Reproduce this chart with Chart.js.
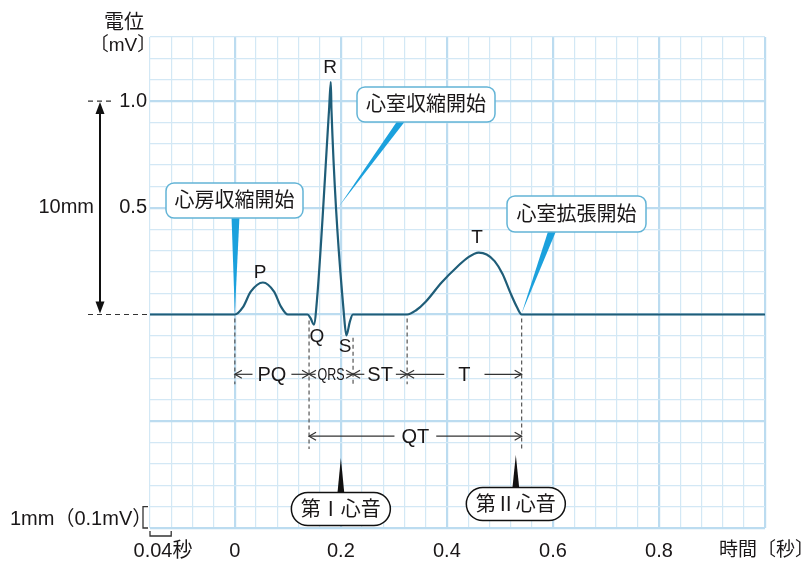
<!DOCTYPE html>
<html lang="ja">
<head>
<meta charset="utf-8">
<script src="https://cdn.jsdelivr.net/npm/chart.js@4.4.1/dist/chart.umd.min.js"></script>
<style>
  html, body { margin: 0; padding: 0; background: #fff; }
</style>
</head>
<body>
<canvas id="ecg" width="805" height="562"></canvas>
<script>
// 心電図の波形 (時間[秒], 電位[mV])
const ecgTime = [-0.16, 0, 0.015, 0.03, 0.053, 0.074, 0.087, 0.1,
  0.137, 0.143, 0.149, 0.155, 0.1777, 0.181, 0.1823, 0.2066, 0.2104, 0.217, 0.2226,
  0.325, 0.342, 0.36, 0.39, 0.42, 0.44, 0.46, 0.475, 0.49, 0.505, 0.52, 0.532, 0.541, 1.0];
const ecgVolt = [0, 0, 0.033, 0.107, 0.15, 0.107, 0.037, 0,
  0, -0.018, -0.047, 0.07, 0.958, 1.089, 0.958, -0.023, -0.098, -0.033, 0,
  0, 0.02, 0.06, 0.15, 0.225, 0.268, 0.29, 0.281, 0.25, 0.19, 0.10, 0.035, 0, 0];

const xTickVals = [0, 0.2, 0.4, 0.6, 0.8];
const xTickLabels = ['0', '0.2', '0.4', '0.6', '0.8'];
const yTickVals = [1.0, 0.5];
const yTickLabels = ['1.0', '0.5'];

const phaseEdges = [0, 0.14, 0.223, 0.325, 0.541];
const phaseNames = ['PQ', 'QRS', 'ST', 'T'];
const heartSoundTimes = [0.2, 0.53];
const heartSoundNames = ['第Ⅰ心音', '第Ⅱ心音'];
const calloutTexts = ['心房収縮開始', '心室収縮開始', '心室拡張開始'];

const FONT = "'Liberation Sans', 'Noto Sans CJK JP', sans-serif";
const INK = '#1a1718';

function isStep(v, s) { const r = v / s; return Math.abs(r - Math.round(r)) < 1e-6; }

function txt(c, s, x, y, size, align) {
  c.font = size + 'px ' + FONT;
  c.textAlign = align || 'center';
  c.textBaseline = 'middle';
  c.fillStyle = INK;
  c.fillText(s, x, y);
}

function line(c, x1, y1, x2, y2, dash, color, w) {
  c.save();
  c.strokeStyle = color || '#333';
  c.lineWidth = w || 1.2;
  c.setLineDash(dash || []);
  c.beginPath(); c.moveTo(x1, y1); c.lineTo(x2, y2); c.stroke();
  c.restore();
}

function chevron(c, x, y, dir) {
  c.save();
  c.strokeStyle = '#333'; c.lineWidth = 1.2;
  c.beginPath();
  c.moveTo(x - dir * 7, y - 4); c.lineTo(x, y); c.lineTo(x - dir * 7, y + 4);
  c.stroke();
  c.restore();
}

function rrect(c, x, y, w, h, r) {
  c.beginPath();
  c.moveTo(x + r, y);
  c.lineTo(x + w - r, y); c.arcTo(x + w, y, x + w, y + r, r);
  c.lineTo(x + w, y + h - r); c.arcTo(x + w, y + h, x + w - r, y + h, r);
  c.lineTo(x + r, y + h); c.arcTo(x, y + h, x, y + h - r, r);
  c.lineTo(x, y + r); c.arcTo(x, y, x + r, y, r);
  c.closePath();
}

function callout(c, s, cx, cy, w, h, wx, tx, ty) {
  const by = cy + h / 2;
  c.fillStyle = '#1ba1dd';
  c.beginPath(); c.moveTo(wx - 4, by - 2); c.lineTo(wx + 4, by - 2); c.lineTo(tx, ty); c.closePath(); c.fill();
  rrect(c, cx - w / 2, cy - h / 2, w, h, 8);
  c.fillStyle = '#fff'; c.fill();
  c.strokeStyle = '#63b4d6'; c.lineWidth = 1.5; c.stroke();
  txt(c, s, cx, cy + 1, 20);
}

function span(c, xa, xb, y, label, pad, size, squeeze) {
  c.font = size + 'px ' + FONT;
  const tw = c.measureText(label).width * (squeeze || 1);
  const mid = (xa + xb) / 2;
  const g1 = mid - tw / 2 - pad, g2 = mid + tw / 2 + pad;
  if (g1 > xa + 1) line(c, xa, y, g1, y);
  if (xb > g2 + 1) line(c, g2, y, xb, y);
  chevron(c, xa, y, -1);
  chevron(c, xb, y, 1);
  c.save();
  c.translate(mid, y + 1);
  c.scale(squeeze || 1, 1);
  txt(c, label, 0, 0, size);
  c.restore();
}

const annot = {
  id: 'annot',
  afterDatasetsDraw(chart) {
    const c = chart.ctx, xs = chart.scales.x, ys = chart.scales.y, a = chart.chartArea;
    const X = v => xs.getPixelForValue(v), Y = v => ys.getPixelForValue(v);
    c.save();

    // 縦軸まわり
    txt(c, '電位', 124, 23, 20);
    txt(c, '〔mV〕', 123, 46, 19);
    yTickVals.forEach((v, i) => txt(c, yTickLabels[i], 147, Y(v), 20, 'right'));
    line(c, 88, Y(1.0), 113, Y(1.0), [5, 4], '#333', 1.2);
    line(c, 88, Y(0), a.left, Y(0), [5, 4], '#333', 1.2);
    line(c, 100, Y(1.0) + 8, 100, Y(0) - 8, null, '#111', 2);
    c.fillStyle = '#111';
    c.beginPath(); c.moveTo(100, Y(1.0) + 1); c.lineTo(95.5, Y(1.0) + 13); c.lineTo(104.5, Y(1.0) + 13); c.closePath(); c.fill();
    c.beginPath(); c.moveTo(100, Y(0) - 1); c.lineTo(95.5, Y(0) - 13); c.lineTo(104.5, Y(0) - 13); c.closePath(); c.fill();
    txt(c, '10mm', 94, Y(0.5), 20, 'right');

    // 目盛りの大きさ
    txt(c, '1mm（0.1mV）', 10, 519, 20, 'left');
    c.strokeStyle = '#333'; c.lineWidth = 1.3; c.setLineDash([]);
    c.beginPath(); c.moveTo(148, Y(-0.9)); c.lineTo(143, Y(-0.9)); c.lineTo(143, Y(-1.0)); c.lineTo(148, Y(-1.0)); c.stroke();
    c.beginPath(); c.moveTo(X(-0.16), 531); c.lineTo(X(-0.16), 536); c.lineTo(X(-0.12), 536); c.lineTo(X(-0.12), 531); c.stroke();
    txt(c, '0.04秒', 163, 551, 20);

    // 横軸
    xTickVals.forEach((v, i) => txt(c, xTickLabels[i], X(v), 551, 20));
    txt(c, '時間〔秒〕', 719, 551, 19, 'left');

    // 波の名前
    txt(c, 'P', 260, 273, 19);
    txt(c, 'Q', 317, 337, 19);
    txt(c, 'R', 330, 68, 19);
    txt(c, 'S', 345, 347, 19);
    txt(c, 'T', 477, 238, 19);

    // 区間の補助線
    const yRow = Y(-0.28), yQT = Y(-0.57);
    const dashEnds = [yRow + 10, Y(-0.63), yRow + 10, yRow + 10, Y(-0.63)];
    const dashStarts = [Y(0) + 4, Y(0) + 6, Y(-0.1) + 2, Y(0) + 4, Y(0) + 4];
    phaseEdges.forEach((t, i) => line(c, X(t), dashStarts[i], X(t), dashEnds[i], [4, 3], '#555', 1.2));
    const pads = [5, 2, 3, 14];
    phaseNames.forEach((n, i) => {
      if (n === 'QRS') span(c, X(phaseEdges[i]), X(phaseEdges[i + 1]), yRow, n, pads[i], 16, 0.78);
      else span(c, X(phaseEdges[i]), X(phaseEdges[i + 1]), yRow, n, pads[i], 20);
    });
    span(c, X(phaseEdges[1]), X(phaseEdges[4]), yQT, 'QT', 7, 20);

    // 心音
    const pillY = [509, 504], spikeTop = [458, 455];
    heartSoundTimes.forEach((t, i) => {
      const x = X(t);
      c.fillStyle = '#111';
      c.beginPath(); c.moveTo(x - 3.5, pillY[i] - 15); c.lineTo(x + 3.5, pillY[i] - 15); c.lineTo(x, spikeTop[i]); c.closePath(); c.fill();
      rrect(c, x - 49.5, pillY[i] - 16.5, 99, 33, 16.5);
      c.fillStyle = '#fff'; c.fill();
      c.strokeStyle = '#111'; c.lineWidth = 1.5; c.stroke();
      txt(c, heartSoundNames[i], x, pillY[i] + 1, 20);
    });

    // 吹き出し
    callout(c, calloutTexts[0], 234.5, 200.5, 137, 35, 235.5, X(0), Y(0) - 1);
    callout(c, calloutTexts[1], 426, 104.5, 138, 35, 402, X(0.196), Y(0.505));
    callout(c, calloutTexts[2], 576.5, 214, 139, 36, 552.5, X(0.541), Y(0) - 1);

    c.restore();
  }
};

new Chart(document.getElementById('ecg'), {
  type: 'line',
  data: {
    datasets: [{
      data: ecgTime.map((t, i) => ({ x: t, y: ecgVolt[i] })),
      borderColor: '#1f5d78',
      borderWidth: 2.2,
      pointRadius: 0,
      cubicInterpolationMode: 'monotone',
      fill: false
    }]
  },
  options: {
    responsive: false,
    animation: false,
    layout: { padding: { left: 150, right: 40, top: 37, bottom: 34 } },
    plugins: { legend: { display: false }, tooltip: { enabled: false } },
    scales: {
      x: {
        type: 'linear', min: -0.16, max: 1.0,
        ticks: { stepSize: 0.04, display: false },
        border: { display: false },
        grid: {
          drawTicks: false,
          color: ctx => isStep(ctx.tick.value, 0.2) ? '#bcdcf0' : '#d3e8f5',
          lineWidth: ctx => isStep(ctx.tick.value, 0.2) ? 2.2 : 1.2
        }
      },
      y: {
        type: 'linear', min: -1.0, max: 1.3,
        ticks: { stepSize: 0.1, display: false },
        border: { display: false },
        grid: {
          drawTicks: false,
          color: ctx => isStep(ctx.tick.value, 0.5) ? '#bcdcf0' : '#d3e8f5',
          lineWidth: ctx => isStep(ctx.tick.value, 0.5) ? 2.2 : 1.2
        }
      }
    }
  },
  plugins: [annot]
});
</script>
</body>
</html>
